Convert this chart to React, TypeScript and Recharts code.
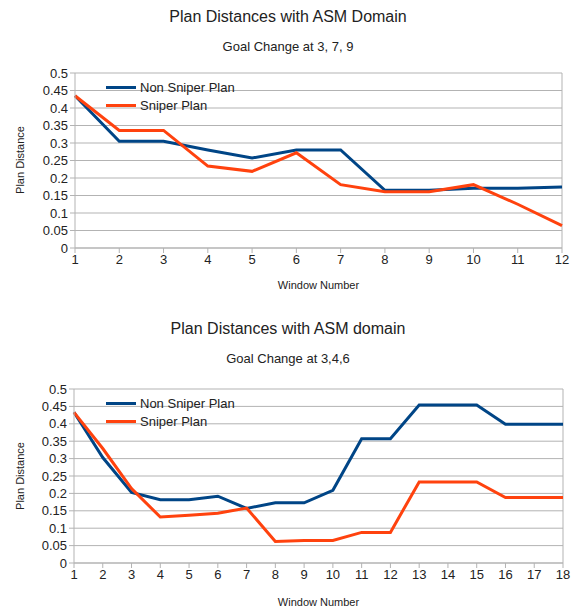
import React from 'react';
import { LineChart, Line, XAxis, YAxis, CartesianGrid, Legend, ReferenceLine } from 'recharts';

// Chart 1: goal change at 3, 7, 9
const windowsA = ['1', '2', '3', '4', '5', '6', '7', '8', '9', '10', '11', '12'];
const nonSniperA = [0.435, 0.305, 0.305, 0.28, 0.257, 0.28, 0.28, 0.165, 0.165, 0.171, 0.171, 0.174];
const sniperA = [0.435, 0.336, 0.336, 0.234, 0.219, 0.272, 0.181, 0.161, 0.161, 0.181, 0.125, 0.064];

// Chart 2: goal change at 3,4,6
const windowsB = ['1', '2', '3', '4', '5', '6', '7', '8', '9', '10', '11', '12', '13', '14', '15', '16', '17', '18'];
const nonSniperB = [0.433, 0.303, 0.203, 0.182, 0.182, 0.192, 0.157, 0.173, 0.173, 0.209, 0.357, 0.357, 0.454, 0.454, 0.454, 0.399, 0.399, 0.399];
const sniperB = [0.433, 0.329, 0.214, 0.132, 0.137, 0.143, 0.158, 0.062, 0.065, 0.065, 0.088, 0.088, 0.233, 0.233, 0.233, 0.188, 0.188, 0.188];

const yTicks = [0, 0.05, 0.1, 0.15, 0.2, 0.25, 0.3, 0.35, 0.4, 0.45, 0.5];

const BLUE = '#004586';
const ORANGE = '#ff420e';
const GRID = '#b3b3b3';
const FONT = '"Liberation Sans", Arial, sans-serif';

const toRows = (cats: string[], a: number[], b: number[]) =>
  cats.map((w, i) => ({ window: w, nonSniper: a[i], sniper: b[i] }));

const LegendBox = ({ payload }: any) => (
  <div style={{ fontFamily: FONT, fontSize: 13, color: '#222' }}>
    {(payload || []).map((p: any) => (
      <div key={p.value} style={{ display: 'flex', alignItems: 'center', height: 18 }}>
        <span style={{ display: 'inline-block', width: 30, height: 3, background: p.color, marginRight: 4 }} />
        <span>{p.value}</span>
      </div>
    ))}
  </div>
);

type PanelProps = {
  top: number;
  title: string;
  subtitle: string;
  cats: string[];
  a: number[];
  b: number[];
  margin: { top: number; right: number; left: number; bottom: number };
  legendTop: number;
  xTitleTop: number;
  yTitleTop: number;
};

function Panel({ top, title, subtitle, cats, a, b, margin, legendTop, xTitleTop, yTitleTop }: PanelProps) {
  const data = toRows(cats, a, b);
  const plotCenter = margin.left + 45 + (576 - margin.left - 45 - margin.right) / 2;
  return (
    <div style={{ position: 'absolute', left: 0, top, width: 576, height: 300, fontFamily: FONT }}>
      <div style={{ position: 'absolute', top: 7, width: 576, textAlign: 'center', fontSize: 16, color: '#222', lineHeight: '20px' }}>
        {title}
      </div>
      <div style={{ position: 'absolute', top: 38, width: 576, textAlign: 'center', fontSize: 13, color: '#222', lineHeight: '18px' }}>
        {subtitle}
      </div>
      <LineChart width={576} height={300} data={data} margin={margin}>
        <CartesianGrid vertical={false} stroke={GRID} />
        <ReferenceLine x={cats[cats.length - 1]} stroke={GRID} />
        <XAxis
          dataKey="window"
          stroke={GRID}
          tick={{ fill: '#222', fontSize: 13, fontFamily: FONT }}
          tickSize={5}
          height={30}
          interval={0}
        />
        <YAxis
          domain={[0, 0.5]}
          ticks={yTicks}
          width={45}
          stroke={GRID}
          tickSize={5}
          tick={{ fill: '#222', fontSize: 13, fontFamily: FONT }}
          tickFormatter={(v: number) => String(+v.toFixed(2))}
          interval={0}
        />
        {/* centered/middle placement keeps the legend from shrinking the plot */}
        <Legend
          layout="vertical"
          verticalAlign="middle"
          align="center"
          content={<LegendBox />}
          wrapperStyle={{ left: 106, top: legendTop, width: 200 }}
        />
        <Line name="Non Sniper Plan" dataKey="nonSniper" stroke={BLUE} strokeWidth={3} dot={false} isAnimationActive={false} />
        <Line name="Sniper Plan" dataKey="sniper" stroke={ORANGE} strokeWidth={3} dot={false} isAnimationActive={false} />
      </LineChart>
      <div style={{ position: 'absolute', top: xTitleTop, left: plotCenter - 100, width: 200, textAlign: 'center', fontSize: 11, color: '#222' }}>
        Window Number
      </div>
      <div
        style={{
          position: 'absolute',
          left: 20,
          top: yTitleTop,
          fontSize: 11,
          color: '#222',
          whiteSpace: 'nowrap',
          transform: 'translate(-50%, -50%) rotate(-90deg)',
        }}
      >
        Plan Distance
      </div>
    </div>
  );
}

export default function App() {
  return (
    <div style={{ position: 'absolute', left: 0, top: 0, width: 576, height: 612, background: '#fff' }}>
      <Panel
        top={0}
        title="Plan Distances with ASM Domain"
        subtitle="Goal Change at 3, 7, 9"
        cats={windowsA}
        a={nonSniperA}
        b={sniperA}
        margin={{ top: 73, right: 14, left: 30, bottom: 22 }}
        legendTop={78}
        xTitleTop={279}
        yTitleTop={160}
      />
      <Panel
        top={312}
        title="Plan Distances with ASM domain"
        subtitle="Goal Change at 3,4,6"
        cats={windowsB}
        a={nonSniperB}
        b={sniperB}
        margin={{ top: 77, right: 13, left: 29, bottom: 19 }}
        legendTop={82}
        xTitleTop={284}
        yTitleTop={164}
      />
    </div>
  );
}
